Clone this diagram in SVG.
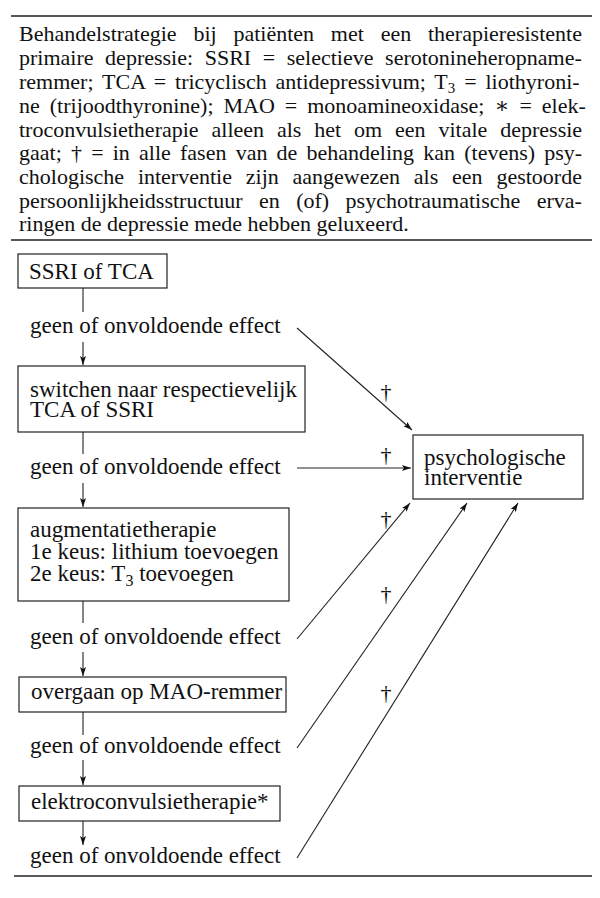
<svg xmlns="http://www.w3.org/2000/svg" width="600" height="898" viewBox="0 0 600 898" font-family="'Liberation Serif', 'Times New Roman', 'DejaVu Serif', serif">
<style>
text{font-family:'Liberation Serif','Times New Roman','DejaVu Serif',serif;fill:#111}
.cap{font-size:22px}
.t{font-size:23px}
.dg{font-size:22px;text-anchor:middle}
.box{fill:none;stroke:#222;stroke-width:1.2}
.rule{stroke:#222;stroke-width:1.4}
.ln{stroke:#222;stroke-width:1.1;fill:none}
</style>
<defs>
<marker id="ah" viewBox="0 0 9 6" refX="9" refY="3" markerWidth="9" markerHeight="6" markerUnits="userSpaceOnUse" orient="auto">
<path d="M0,0 L9,3 L0,6 L2,3 z" fill="#111"/>
</marker>
</defs>
<rect width="600" height="898" fill="#fff"/>
<g id="caption">
<line class="rule" x1="11" y1="16" x2="592" y2="16"/>
<text class="cap" x="19" y="41" word-spacing="11.3">Behandelstrategie bij patiënten met een therapieresistente</text>
<text class="cap" x="19" y="65" word-spacing="6.1">primaire depressie: SSRI = selectieve serotonineheropname-</text>
<text class="cap" x="19" y="89" word-spacing="3.4">remmer; TCA = tricyclisch antidepressivum; T<tspan font-size="15" dy="4">3</tspan><tspan dy="-4"> = liothyroni-</tspan></text>
<text class="cap" x="19" y="113" word-spacing="4.5">ne (trijoodthyronine); MAO = monoamineoxidase; ∗ = elek-</text>
<text class="cap" x="19" y="137" word-spacing="7.4">troconvulsietherapie alleen als het om een vitale depressie</text>
<text class="cap" x="19" y="160" word-spacing="3.7">gaat; † = in alle fasen van de behandeling kan (tevens) psy-</text>
<text class="cap" x="19" y="184" word-spacing="8.3">chologische interventie zijn aangewezen als een gestoorde</text>
<text class="cap" x="19" y="208" word-spacing="10.9">persoonlijkheidsstructuur en (of) psychotraumatische erva-</text>
<text class="cap" x="19" y="231">ringen de depressie mede hebben geluxeerd.</text>
<line class="rule" x1="11" y1="240" x2="592" y2="240"/>
</g>
<g id="n1"><rect class="box" x="18" y="254" width="149" height="34"/><text class="t" x="29" y="279">SSRI of TCA</text></g>
<g id="e1"><text class="t" x="30" y="333">geen of onvoldoende effect</text></g>
<g id="n2"><rect class="box" x="18" y="366" width="287" height="66"/><text class="t" x="30" y="397">switchen naar respectievelijk</text><text class="t" x="30" y="417">TCA of SSRI</text></g>
<g id="e2"><text class="t" x="30" y="474">geen of onvoldoende effect</text></g>
<g id="n3"><rect class="box" x="18" y="508" width="271" height="93"/><text class="t" x="30" y="537">augmentatietherapie</text><text class="t" x="30" y="559">1e keus: lithium toevoegen</text><text class="t" x="30" y="581">2e keus: T<tspan font-size="16" dy="5">3</tspan><tspan dy="-5"> toevoegen</tspan></text></g>
<g id="e3"><text class="t" x="30" y="644">geen of onvoldoende effect</text></g>
<g id="n4"><rect class="box" x="19" y="677" width="267" height="35"/><text class="t" x="31" y="699">overgaan op MAO-remmer</text></g>
<g id="e4"><text class="t" x="30" y="753">geen of onvoldoende effect</text></g>
<g id="n5"><rect class="box" x="19" y="786" width="261" height="35"/><text class="t" x="31" y="809">elektroconvulsietherapie*</text></g>
<g id="e5"><text class="t" x="30" y="863">geen of onvoldoende effect</text></g>
<g id="psych"><rect class="box" x="413" y="435" width="170" height="64"/><text class="t" x="424" y="465">psychologische</text><text class="t" x="424" y="485">interventie</text></g>
<g id="connectors">
<line class="ln" x1="83" y1="288" x2="83" y2="312"/>
<line class="ln" x1="83" y1="342" x2="83" y2="365" marker-end="url(#ah)"/>
<line class="ln" x1="83" y1="432" x2="83" y2="454"/>
<line class="ln" x1="83" y1="483" x2="83" y2="507" marker-end="url(#ah)"/>
<line class="ln" x1="83" y1="601" x2="83" y2="623"/>
<line class="ln" x1="83" y1="652" x2="83" y2="676" marker-end="url(#ah)"/>
<line class="ln" x1="83" y1="712" x2="83" y2="735"/>
<line class="ln" x1="83" y1="760" x2="83" y2="785" marker-end="url(#ah)"/>
<line class="ln" x1="83" y1="821" x2="83" y2="845" marker-end="url(#ah)"/>
<line class="ln" x1="297" y1="328" x2="412" y2="430" marker-end="url(#ah)"/>
<line class="ln" x1="297" y1="468" x2="411" y2="468" marker-end="url(#ah)"/>
<line class="ln" x1="297" y1="639" x2="410" y2="503" marker-end="url(#ah)"/>
<line class="ln" x1="297" y1="748" x2="467" y2="503" marker-end="url(#ah)"/>
<line class="ln" x1="297" y1="858" x2="518" y2="503" marker-end="url(#ah)"/>
<text class="dg" x="386" y="399">†</text>
<text class="dg" x="386" y="462">†</text>
<text class="dg" x="386" y="526">†</text>
<text class="dg" x="386" y="601">†</text>
<text class="dg" x="386" y="700">†</text>
</g>
<line class="rule" x1="14" y1="876" x2="592" y2="876"/>
</svg>
